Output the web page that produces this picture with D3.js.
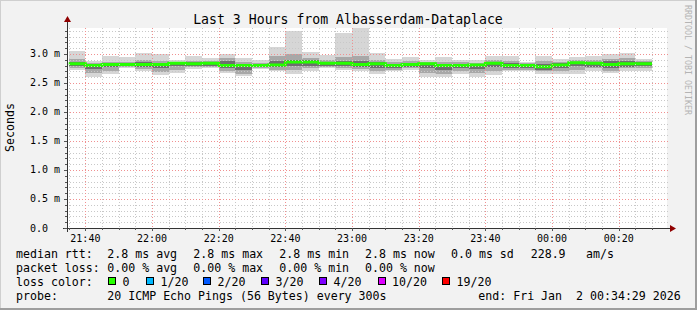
<!DOCTYPE html>
<html>
<head>
<meta charset="utf-8">
<script src="https://cdn.jsdelivr.net/npm/d3@7"></script>
<style>
  html, body { margin: 0; padding: 0; background: #f2f2f2; }
  svg { display: block; font-family: "DejaVu Sans Mono", monospace; }
</style>
</head>
<body>
<script>
// 5 minute steps, start of each step
const slots = ["21:35","21:40","21:45","21:50","21:55","22:00","22:05","22:10","22:15","22:20",
               "22:25","22:30","22:35","22:40","22:45","22:50","22:55","23:00","23:05","23:10",
               "23:15","23:20","23:25","23:30","23:35","23:40","23:45","23:50","23:55","00:00",
               "00:05","00:10","00:15","00:20","00:25"];
// round trip times in ms
const pingMax = [3.05,2.88,2.97,2.94,3.02,3.00,2.90,2.97,2.93,3.00,2.93,2.90,3.12,3.39,3.03,2.98,3.37,3.44,3.01,2.91,
                 2.94,2.90,2.94,2.90,2.90,2.97,2.96,2.87,2.97,2.91,2.94,2.97,3.00,3.02,2.91];
const ping90  = [2.92,2.85,2.87,2.87,2.90,2.88,2.87,2.88,2.88,2.93,2.86,2.85,2.96,3.00,2.93,2.90,2.95,2.97,2.90,2.86,
                 2.88,2.86,2.87,2.86,2.85,2.90,2.88,2.84,2.88,2.86,2.89,2.90,2.92,2.93,2.88];
const ping75  = [2.87,2.83,2.85,2.85,2.86,2.85,2.86,2.86,2.86,2.88,2.83,2.83,2.88,2.90,2.89,2.87,2.88,2.88,2.86,2.83,
                 2.85,2.85,2.83,2.83,2.83,2.87,2.84,2.82,2.83,2.84,2.87,2.87,2.88,2.88,2.86];
const median  = [2.83,2.80,2.82,2.82,2.82,2.82,2.84,2.83,2.84,2.80,2.80,2.80,2.81,2.86,2.86,2.84,2.84,2.82,2.83,2.80,
                 2.82,2.83,2.80,2.80,2.81,2.84,2.80,2.80,2.78,2.81,2.85,2.84,2.82,2.83,2.83];
const ping25  = [2.79,2.74,2.77,2.79,2.78,2.75,2.79,2.79,2.79,2.76,2.72,2.78,2.77,2.80,2.80,2.80,2.79,2.77,2.76,2.76,
                 2.78,2.76,2.73,2.76,2.74,2.77,2.76,2.76,2.73,2.76,2.79,2.78,2.75,2.78,2.79];
const ping10  = [2.76,2.68,2.71,2.77,2.74,2.69,2.72,2.77,2.77,2.71,2.66,2.76,2.73,2.72,2.75,2.77,2.75,2.74,2.70,2.73,
                 2.75,2.68,2.66,2.71,2.67,2.70,2.73,2.73,2.70,2.71,2.72,2.75,2.71,2.75,2.76];
const pingMin = [2.72,2.61,2.66,2.75,2.71,2.63,2.67,2.74,2.75,2.67,2.62,2.74,2.70,2.66,2.71,2.75,2.72,2.71,2.66,2.70,
                 2.72,2.60,2.60,2.66,2.60,2.63,2.70,2.70,2.66,2.66,2.66,2.71,2.67,2.71,2.71];

const yTicks = [0, 0.5, 1.0, 1.5, 2.0, 2.5, 3.0];
const lossLevels = ["0", "1/20", "2/20", "3/20", "4/20", "10/20", "19/20"];
const lossColors = ["#26ff00", "#00b8ff", "#0059ff", "#5e00ff", "#7e00ff", "#dd00ff", "#ff0000"];

const W = 697, H = 310;
const plot = {left: 67, right: 667, top: 28, bottom: 228};
const tStart = new Date(2026, 0, 1, 21, 34, 29);
const tEnd = new Date(2026, 0, 2, 0, 34, 29);

const parseSlot = s => {
  const [h, m] = s.split(":").map(Number);
  return new Date(2026, 0, h < 12 ? 2 : 1, h, m, 0);
};
const bars = slots.map((s, i) => ({
  t0: parseSlot(s),
  t1: d3.timeMinute.offset(parseSlot(s), 5),
  max: pingMax[i], p90: ping90[i], p75: ping75[i], med: median[i],
  p25: ping25[i], p10: ping10[i], min: pingMin[i]
}));

const x = d3.scaleTime().domain([tStart, tEnd]).range([plot.left, plot.right]);
const y = d3.scaleLinear().domain([0, 3.448]).range([plot.bottom, plot.top]);

const svg = d3.select("body").append("svg")
    .attr("width", W)
    .attr("height", H);

// frame
svg.append("rect").attr("width", W).attr("height", H).attr("fill", "#f2f2f2");
svg.append("path").attr("d", `M0,${H} V0 H${W}`).attr("fill", "none")
    .attr("stroke", "#cfcfcf").attr("stroke-width", 2);
svg.append("path").attr("d", `M0,${H - 1} H${W - 1} V0`).attr("fill", "none")
    .attr("stroke", "#9e9e9e").attr("stroke-width", 2);

svg.append("rect")
    .attr("x", plot.left).attr("y", plot.top)
    .attr("width", plot.right - plot.left).attr("height", plot.bottom - plot.top)
    .attr("fill", "#ffffff");

svg.append("clipPath").attr("id", "clip")
  .append("rect")
    .attr("x", plot.left).attr("y", plot.top)
    .attr("width", plot.right - plot.left).attr("height", plot.bottom - plot.top);

const g = svg.append("g").attr("clip-path", "url(#clip)");

// smoke
const bands = [
  {lo: "min", hi: "max", color: "#d6d6d6"},
  {lo: "p10", hi: "p90", color: "#a8a8a8"},
  {lo: "p25", hi: "p75", color: "#6e6e6e"}
];
bands.forEach(b => {
  g.selectAll(null)
    .data(bars)
    .enter().append("rect")
    .attr("x", d => x(d.t0))
    .attr("width", d => x(d.t1) - x(d.t0))
    .attr("y", d => y(d[b.hi]))
    .attr("height", d => y(d[b.lo]) - y(d[b.hi]))
    .attr("fill", b.color)
    .attr("shape-rendering", "crispEdges");
});

// grid
const minorY = d3.range(1, 35).map(v => v / 10).filter(v => !yTicks.includes(v));
const grid = svg.append("g").attr("shape-rendering", "crispEdges").attr("fill", "none");
grid.selectAll("line.hminor")
  .data(minorY)
  .enter().append("line")
    .attr("x1", plot.left).attr("x2", plot.right + 2)
    .attr("y1", d => Math.round(y(d)) + 0.5).attr("y2", d => Math.round(y(d)) + 0.5)
    .attr("stroke", "#c8c8c8").attr("stroke-dasharray", "1,2");
const minorX = d3.timeMinute.every(5).range(tStart, tEnd).filter(t => t.getMinutes() % 20 !== 0);
grid.selectAll("line.vminor")
  .data(minorX)
  .enter().append("line")
    .attr("x1", d => Math.round(x(d)) + 0.5).attr("x2", d => Math.round(x(d)) + 0.5)
    .attr("y1", plot.top).attr("y2", plot.bottom)
    .attr("stroke", "#c8c8c8").attr("stroke-dasharray", "1,2");
grid.selectAll("line.hmajor")
  .data(yTicks.slice(1))
  .enter().append("line")
    .attr("x1", plot.left).attr("x2", plot.right + 2)
    .attr("y1", d => Math.round(y(d)) + 0.5).attr("y2", d => Math.round(y(d)) + 0.5)
    .attr("stroke", "#f09090").attr("stroke-dasharray", "1,2");
const majorX = d3.timeMinute.every(20).range(tStart, tEnd);
grid.selectAll("line.vmajor")
  .data(majorX)
  .enter().append("line")
    .attr("x1", d => Math.round(x(d)) + 0.5).attr("x2", d => Math.round(x(d)) + 0.5)
    .attr("y1", plot.top).attr("y2", plot.bottom)
    .attr("stroke", "#f09090").attr("stroke-dasharray", "1,2");

// median line
const medPts = bars.map(d => [d.t0, d.med]);
medPts.push([bars[bars.length - 1].t1, bars[bars.length - 1].med]);
g.append("path")
    .datum(medPts)
    .attr("fill", "none")
    .attr("stroke", lossColors[0])
    .attr("stroke-width", 3)
    .attr("d", d3.line().x(d => x(d[0])).y(d => y(d[1])).curve(d3.curveStepAfter));

// axes
const axis = svg.append("g").attr("shape-rendering", "crispEdges");
axis.append("line")
    .attr("x1", plot.left - 4).attr("x2", plot.right + 4)
    .attr("y1", plot.bottom + 0.5).attr("y2", plot.bottom + 0.5)
    .attr("stroke", "#333");
axis.append("line")
    .attr("x1", plot.left + 0.5).attr("x2", plot.left + 0.5)
    .attr("y1", plot.bottom + 4).attr("y2", plot.top - 6)
    .attr("stroke", "#333");
axis.selectAll("line.xt")
  .data(minorX.concat(majorX))
  .enter().append("line")
    .attr("x1", d => Math.round(x(d)) + 0.5).attr("x2", d => Math.round(x(d)) + 0.5)
    .attr("y1", plot.bottom).attr("y2", d => plot.bottom + (d.getMinutes() % 20 ? 2 : 3))
    .attr("stroke", "#555");
axis.selectAll("line.yt")
  .data(minorY.concat(yTicks))
  .enter().append("line")
    .attr("x1", d => plot.left - (yTicks.includes(d) ? 3 : 2)).attr("x2", plot.left)
    .attr("y1", d => Math.round(y(d)) + 0.5).attr("y2", d => Math.round(y(d)) + 0.5)
    .attr("stroke", "#555");
svg.append("path")
    .attr("d", `M${plot.left + 0.5},${plot.top - 12} l-3.5,6 h7 z`)
    .attr("fill", "#900000");
svg.append("path")
    .attr("d", `M${plot.right + 9},${plot.bottom + 0.5} l-6,-3.5 v7 z`)
    .attr("fill", "#900000");

// tick labels
svg.selectAll("text.ylab")
  .data(yTicks)
  .enter().append("text")
    .attr("x", 30)
    .attr("y", d => y(d) + 3.5)
    .attr("font-size", "10px")
    .text(d => d === 0 ? "0.0" : d.toFixed(1) + " m");
svg.selectAll("text.xlab")
  .data(majorX)
  .enter().append("text")
    .attr("x", d => x(d))
    .attr("y", 241.5)
    .attr("text-anchor", "middle")
    .attr("font-size", "10px")
    .text(d3.timeFormat("%H:%M"));

svg.append("text")
    .attr("x", 348).attr("y", 24)
    .attr("text-anchor", "middle")
    .attr("font-size", "13.2px")
    .text("Last 3 Hours from Albasserdam-Dataplace");

svg.append("text")
    .attr("transform", "translate(13.5,127.5) rotate(-90)")
    .attr("text-anchor", "middle")
    .attr("font-size", "11.6px")
    .text("Seconds");

svg.append("text")
    .attr("transform", "translate(685,5) rotate(90)")
    .attr("font-size", "8.3px")
    .attr("fill", "#b4b4b4")
    .text("RRDTOOL / TOBI OETIKER");

// legend
const rowY = [257.5, 271.5, 285.5, 299.5];
const legendRows = [
  [[16, "median rtt:"], [107.3, "2.8 ms avg"], [193.3, "2.8 ms max"], [279.3, "2.8 ms min"],
   [365, "2.8 ms now"], [451, "0.0 ms sd"], [530.7, "228.9"], [586, "am/s"]],
  [[16, "packet loss:"], [107.3, "0.00 % avg"], [193.3, "0.00 % max"], [279.3, "0.00 % min"],
   [365, "0.00 % now"]],
  [[16, "loss color:"]],
  [[16, "probe:"], [107.3, "20 ICMP Echo Pings (56 Bytes) every 300s"], [478.3, "end: Fri Jan  2 00:34:29 2026"]]
];
legendRows.forEach((row, r) => {
  svg.selectAll(null)
    .data(row)
    .enter().append("text")
      .attr("x", d => d[0])
      .attr("y", rowY[r])
      .attr("font-size", "11.6px")
      .attr("xml:space", "preserve")
      .style("white-space", "pre")
      .text(d => d[1]);
});
const swatchX = [108.5, 146.5, 203.5, 261.5, 319.5, 378, 442.5];
const swatch = svg.selectAll("g.loss")
  .data(lossLevels)
  .enter().append("g");
swatch.append("rect")
    .attr("x", (d, i) => swatchX[i]).attr("y", 277.5)
    .attr("width", 7).attr("height", 7)
    .attr("fill", (d, i) => lossColors[i])
    .attr("stroke", "#000")
    .attr("shape-rendering", "crispEdges");
swatch.append("text")
    .attr("x", (d, i) => swatchX[i] + 14)
    .attr("y", rowY[2])
    .attr("font-size", "11.6px")
    .text(d => d);
</script>
</body>
</html>
